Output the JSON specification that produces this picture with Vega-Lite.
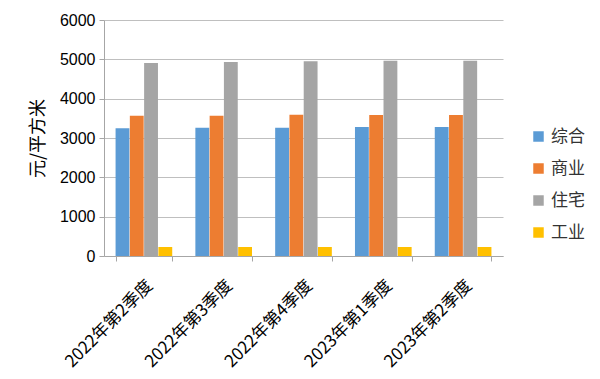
{
  "$schema": "https://vega.github.io/schema/vega-lite/v6.json",
  "width": 399,
  "height": 236,
  "autosize": "none",
  "padding": {"left": 104, "top": 20, "right": 97, "bottom": 123},
  "background": "white",
  "config": {
    "view": {"stroke": null},
    "font": "Noto Sans CJK SC"
  },
  "data": {
    "values": [
      {"q": "2022年第2季度", "type": "综合", "v": 3246},
      {"q": "2022年第2季度", "type": "商业", "v": 3568},
      {"q": "2022年第2季度", "type": "住宅", "v": 4907},
      {"q": "2022年第2季度", "type": "工业", "v": 229},
      {"q": "2022年第3季度", "type": "综合", "v": 3262},
      {"q": "2022年第3季度", "type": "商业", "v": 3568},
      {"q": "2022年第3季度", "type": "住宅", "v": 4932},
      {"q": "2022年第3季度", "type": "工业", "v": 229},
      {"q": "2022年第4季度", "type": "综合", "v": 3262},
      {"q": "2022年第4季度", "type": "商业", "v": 3593},
      {"q": "2022年第4季度", "type": "住宅", "v": 4950},
      {"q": "2022年第4季度", "type": "工业", "v": 229},
      {"q": "2023年第1季度", "type": "综合", "v": 3280},
      {"q": "2023年第1季度", "type": "商业", "v": 3585},
      {"q": "2023年第1季度", "type": "住宅", "v": 4966},
      {"q": "2023年第1季度", "type": "工业", "v": 229},
      {"q": "2023年第2季度", "type": "综合", "v": 3280},
      {"q": "2023年第2季度", "type": "商业", "v": 3585},
      {"q": "2023年第2季度", "type": "住宅", "v": 4966},
      {"q": "2023年第2季度", "type": "工业", "v": 229}
    ]
  },
  "mark": {"type": "bar"},
  "encoding": {
    "x": {
      "field": "q",
      "type": "nominal",
      "sort": null,
      "scale": {"paddingInner": 0.29, "paddingOuter": 0.145},
      "axis": {
        "title": null,
        "labelAngle": -45,
        "labelFontSize": 17,
        "labelColor": "#000000",
        "labelFont": "Noto Sans CJK SC",
        "domainColor": "#a6a6a6",
        "tickColor": "#a6a6a6",
        "tickBand": "extent",
        "tickSize": 5,
        "labelPadding": 16
      }
    },
    "xOffset": {"field": "type", "type": "nominal", "sort": ["综合", "商业", "住宅", "工业"], "scale": {"paddingInner": 0.03}},
    "y": {
      "field": "v",
      "type": "quantitative",
      "scale": {"domain": [0, 6000]},
      "axis": {
        "title": "元/平方米",
        "titleFontSize": 18,
        "titleFontWeight": "normal",
        "titleColor": "#000000",
        "titlePadding": 12,
        "format": "d",
        "values": [0, 1000, 2000, 3000, 4000, 5000, 6000],
        "labelFontSize": 16,
        "labelFont": "Liberation Sans",
        "labelColor": "#000000",
        "domainColor": "#a6a6a6",
        "tickColor": "#a6a6a6",
        "tickSize": 5,
        "labelPadding": 4,
        "gridColor": "#bfbfbf",
        "gridWidth": 1
      }
    },
    "color": {
      "field": "type",
      "type": "nominal",
      "sort": ["综合", "商业", "住宅", "工业"],
      "scale": {"domain": ["综合", "商业", "住宅", "工业"], "range": ["#5B9BD5", "#ED7D31", "#A5A5A5", "#FFC000"]},
      "legend": {
        "title": null,
        "orient": "none",
        "legendX": 426,
        "legendY": 108,
        "symbolType": "square",
        "symbolSize": 110,
        "symbolStrokeWidth": 0,
        "labelFontSize": 17,
        "labelColor": "#333333",
        "rowPadding": 14,
        "labelOffset": 4
      }
    }
  }
}
